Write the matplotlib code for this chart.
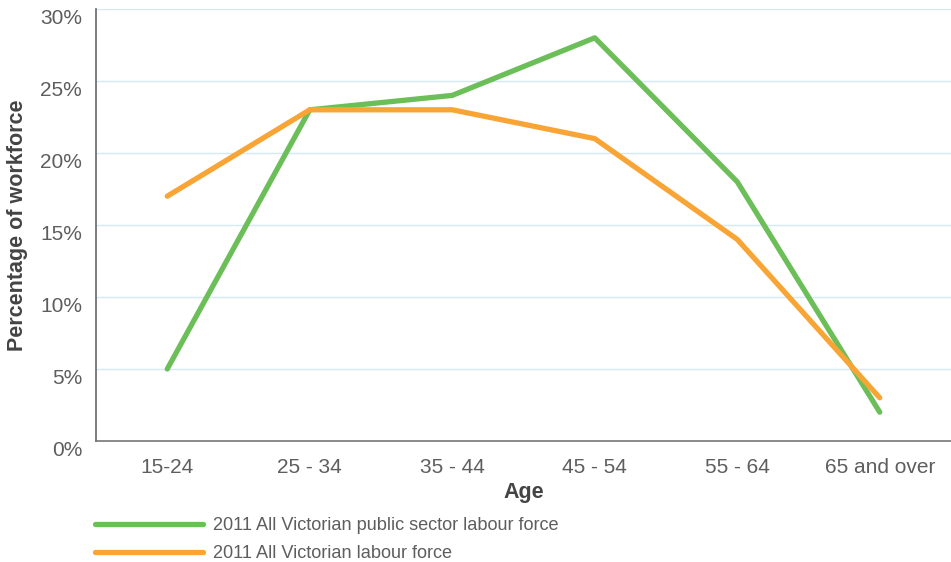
import numpy as np
import matplotlib.pyplot as plt
import matplotlib.transforms as mtransforms

plt.rcParams['font.family'] = ['Liberation Sans', 'DejaVu Sans']

# Data
ages = ['15-24', '25 - 34', '35 - 44', '45 - 54', '55 - 64', '65 and over']
public_sector = [5, 23, 24, 28, 18, 2]
labour_force = [17, 23, 23, 21, 14, 3]
y_ticks = [0, 5, 10, 15, 20, 25, 30]

green = '#6cbf58'
orange = '#f8a535'
text_grey = '#5e5e5e'

fig = plt.figure(figsize=(9.51, 5.62), dpi=100)
ax = fig.add_axes([96 / 951, 1 - 441 / 562, 1 - 96 / 951, 432 / 562])

x = np.arange(len(ages)) + 0.5
ax.plot(x, public_sector, color=green, linewidth=3.8, solid_capstyle='round',
        label='2011 All Victorian public sector labour force', zorder=3)
ax.plot(x, labour_force, color=orange, linewidth=3.8, solid_capstyle='round',
        label='2011 All Victorian labour force', zorder=3)

ax.set_xlim(0, len(ages))
ax.set_ylim(0, 30)
ax.set_xticks(x)
ax.set_xticklabels(ages)
ax.set_yticks(y_ticks)
ax.set_yticklabels([f'{v}%' for v in y_ticks])
ax.tick_params(axis='both', length=0, labelsize=15, labelcolor=text_grey)
ax.tick_params(axis='x', pad=12)
ax.tick_params(axis='y', pad=10)

# shift y tick labels slightly down like the original
offset = mtransforms.ScaledTranslation(0, -8 / 100, fig.dpi_scale_trans)
for lab in ax.get_yticklabels():
    lab.set_transform(lab.get_transform() + offset)

ax.grid(axis='y', color='#d3e9f6', linewidth=1)
ax.set_axisbelow(True)
for s in ['top', 'right']:
    ax.spines[s].set_visible(False)
ax.spines['left'].set_color('#666666')
ax.spines['bottom'].set_color('#777777')
ax.spines['left'].set_linewidth(1.2)
ax.spines['bottom'].set_linewidth(1.2)

ax.set_xlabel('Age', fontsize=15.5, fontweight='bold', color='#444444', labelpad=4)
fig.text(18 / 951, 1 - 225 / 562, 'Percentage of workforce', rotation=90,
         fontsize=15.5, fontweight='bold', color='#444444', ha='center', va='center')

fig.legend(loc='upper left', bbox_to_anchor=(88 / 951, 1 - 510 / 562), frameon=False,
           fontsize=13.1, labelcolor=text_grey, handlelength=5.9, handletextpad=0.55,
           labelspacing=0.6, borderaxespad=0)

fig.savefig('out.png', dpi=100)
